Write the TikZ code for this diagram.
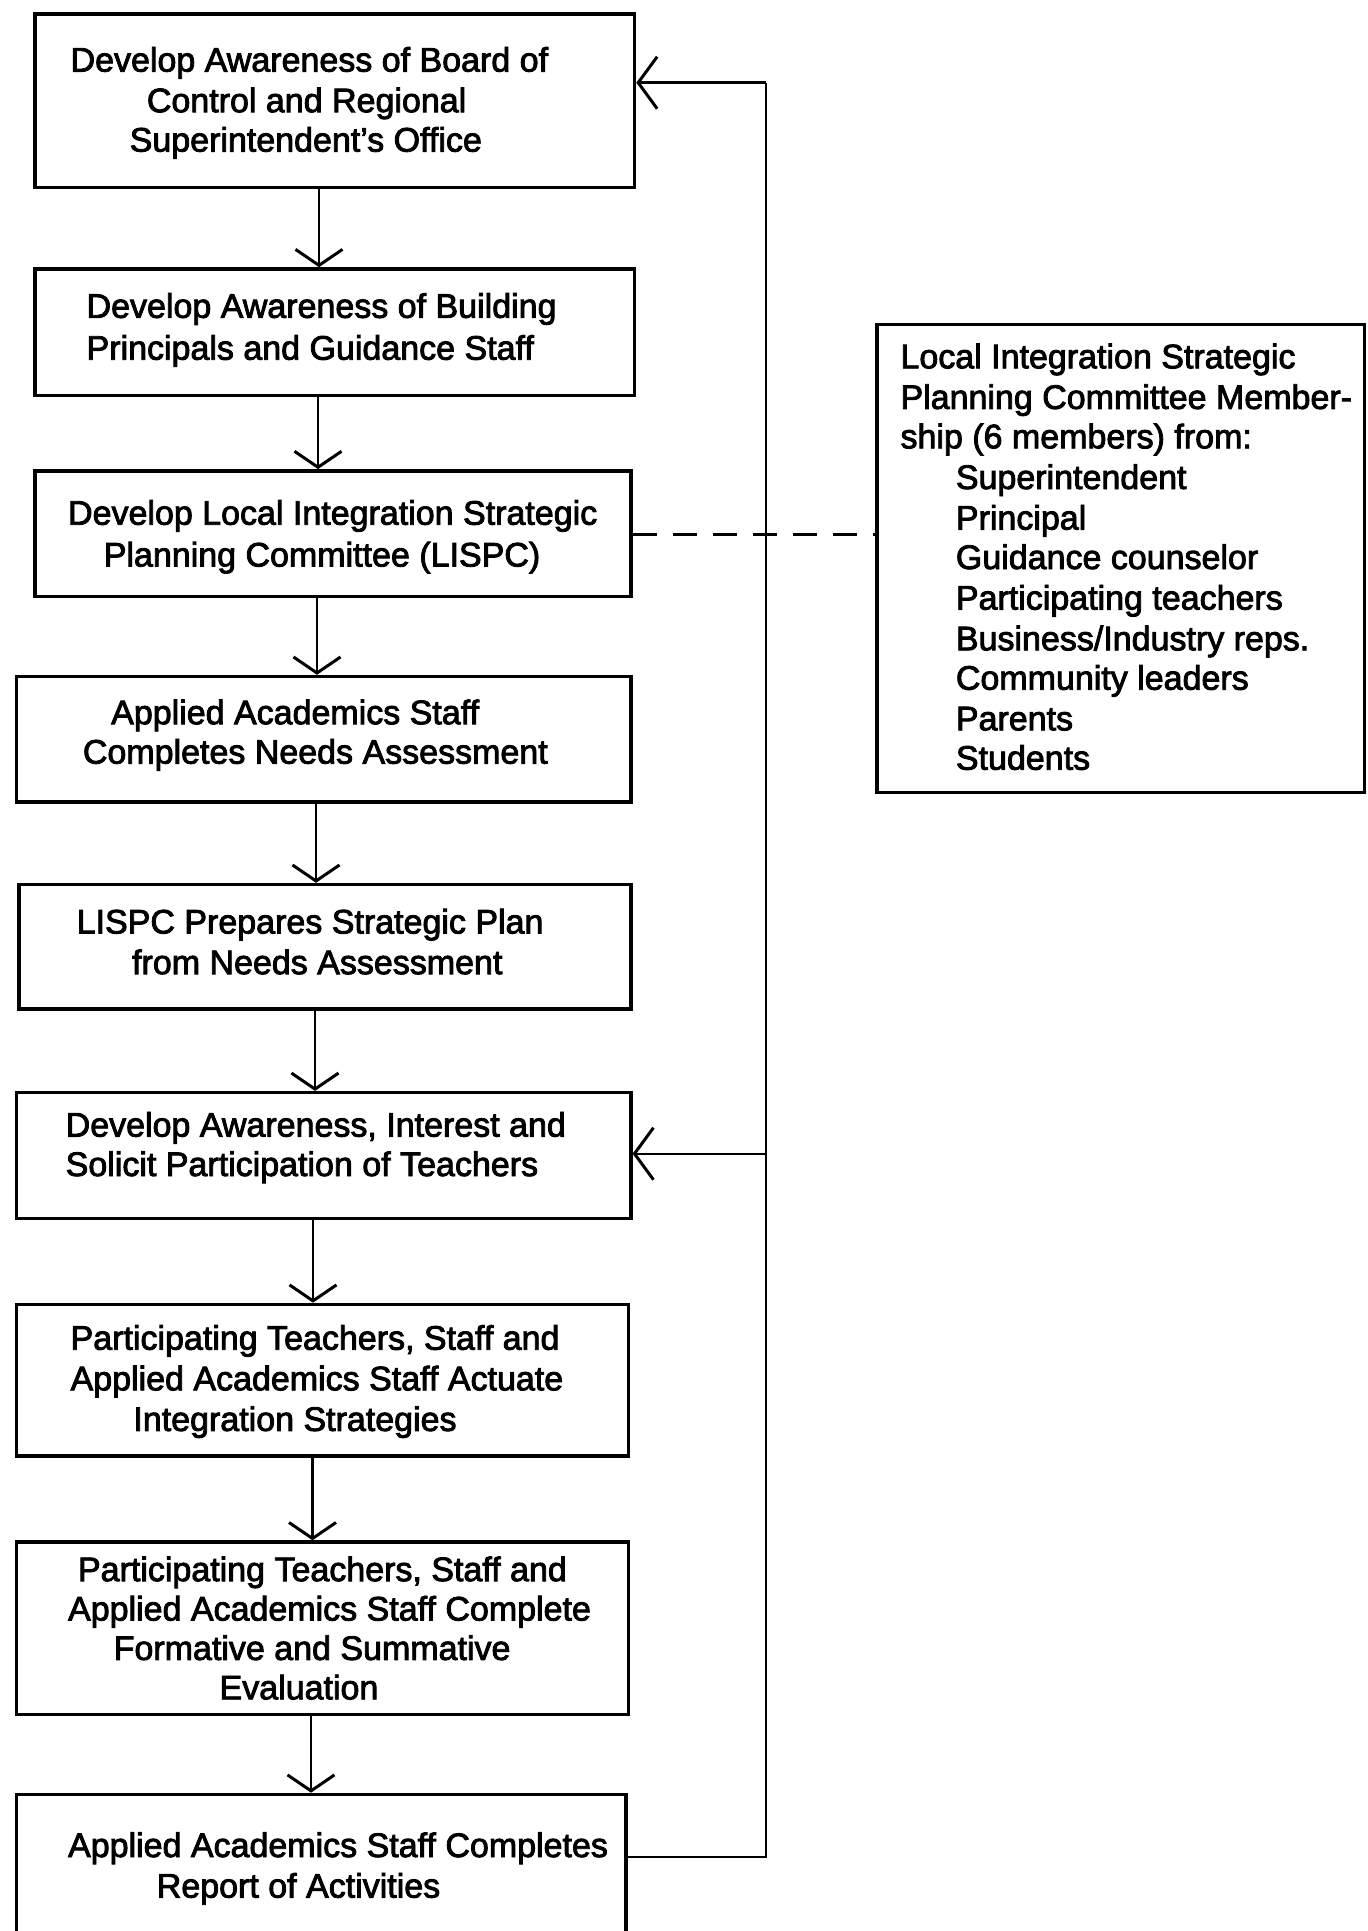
\documentclass[tikz,border=0pt]{standalone}
\usepackage{fontspec}
\newfontfamily\diagfont{Liberation Sans}[FakeBold=2.5]
\usetikzlibrary{arrows.meta}
\begin{document}
\begin{tikzpicture}[x=0.5pt,y=-0.5pt,
  box/.style={draw, line width=1.7pt, inner sep=0pt, anchor=north west},
  txt/.style={anchor=base west, inner sep=0pt, font=\diagfont\fontsize{17}{20}\selectfont},
  arr/.style={line width=1.3pt, -{Straight Barb[length=8pt,width=23.5pt,line width=1.5pt]}},
  sarr/.style={line width=1.2pt, -{Straight Barb[length=9.5pt,width=26pt,line width=1.5pt]}},
  fb/.style={line width=1.2pt},
  dashline/.style={line width=1.2pt, dash pattern=on 12pt off 8pt}]
\useasboundingbox (0,0) rectangle (1368,1931);
\clip (0,0) rectangle (1368,1931);
\fill[white] (0,0) rectangle (1368,1931);

% boxes
\node[box, minimum width=299.85pt, minimum height=86.8pt] (b1) at (33.2,12.3) {};
\node[box, minimum width=299.85pt, minimum height=63.4pt] (b2) at (33.2,267.2) {};
\node[box, minimum width=298pt, minimum height=62.8pt] (b3) at (33.2,469.1) {};
\node[box, minimum width=307.2pt, minimum height=62.75pt] (b4) at (14.8,674.8) {};
\node[box, minimum width=306pt, minimum height=62.2pt] (b5) at (17.2,882.8) {};
\node[box, minimum width=307.2pt, minimum height=62.8pt] (b6) at (14.8,1090.9) {};
\node[box, minimum width=305.95pt, minimum height=75.75pt] (b7) at (14.8,1302.7) {};
\node[box, minimum width=305.95pt, minimum height=86.2pt] (b8) at (14.8,1540.3) {};
\node[box, minimum width=304.75pt, minimum height=100pt] (b9) at (14.8,1792.7) {};
\node[box, minimum width=243.8pt, minimum height=233.95pt] (r) at (875.4,322.6) {};

% texts
\node[txt] (t1a) at (70.2,71.6) {Develop Awareness of Board of};
\node[txt] (t1b) at (146.5,112.2) {Control and Regional};
\node[txt] (t1c) at (129.3,151.6) {Superintendent’s Office};
\node[txt] (t2a) at (86.2,317.8) {Develop Awareness of Building};
\node[txt] (t2b) at (86.2,359.7) {Principals and Guidance Staff};
\node[txt] (t3a) at (67.7,524.7) {Develop Local Integration Strategic};
\node[txt] (t3b) at (103.4,566.5) {Planning Committee (LISPC)};
\node[txt] (t4a) at (110.8,724.2) {Applied Academics Staff};
\node[txt] (t4b) at (82.5,763.6) {Completes Needs Assessment};
\node[txt] (t5a) at (76.3,933.5) {LISPC Prepares Strategic Plan};
\node[txt] (t5b) at (131.7,974.1) {from Needs Assessment};
\node[txt] (t6a) at (65.3,1136.6) {Develop Awareness, Interest and};
\node[txt] (t6b) at (65.3,1176.0) {Solicit Participation of Teachers};
\node[txt] (t7a) at (70.2,1349.7) {Participating Teachers, Staff and};
\node[txt] (t7b) at (70.2,1390.3) {Applied Academics Staff Actuate};
\node[txt] (t7c) at (133,1430.9) {Integration Strategies};
\node[txt] (t8a) at (77.6,1581.1) {Participating Teachers, Staff and};
\node[txt] (t8b) at (67.7,1620.5) {Applied Academics Staff Complete};
\node[txt] (t8c) at (113.3,1659.9) {Formative and Summative};
\node[txt] (t8d) at (219.2,1699.3) {Evaluation};
\node[txt] (t9a) at (67.7,1857) {Applied Academics Staff Completes};
\node[txt] (t9b) at (156.4,1897.6) {Report of Activities};

\node[txt] (ra) at (900.1,368.3) {Local Integration Strategic};
\node[txt] (rb) at (900.1,408.9) {Planning Committee Member-};
\node[txt] (rc) at (900.1,448.3) {ship (6 members) from:};
\node[txt] (rd) at (955.5,489.0) {Superintendent};
\node[txt] (re) at (955.5,529.6) {Principal};
\node[txt] (rf) at (955.5,569.0) {Guidance counselor};
\node[txt] (rg) at (955.5,609.6) {Participating teachers};
\node[txt] (rh) at (955.5,650.3) {Business/Industry reps.};
\node[txt] (ri) at (955.5,689.7) {Community leaders};
\node[txt] (rj) at (955.5,730.3) {Parents};
\node[txt] (rk) at (955.5,769.7) {Students};

% arrow x positions
\coordinate (x12) at (319,0);
\coordinate (x23) at (318,0);
\coordinate (x34) at (317,0);
\coordinate (x45) at (316,0);
\coordinate (x56) at (315,0);
\coordinate (x67) at (313,0);
\coordinate (x78) at (312.5,0);
\coordinate (x89) at (311,0);

\draw[arr] (b1.south -| x12) -- (b2.north -| x12);
\draw[arr] (b2.south -| x23) -- (b3.north -| x23);
\draw[arr] (b3.south -| x34) -- (b4.north -| x34);
\draw[arr] (b4.south -| x45) -- (b5.north -| x45);
\draw[arr] (b5.south -| x56) -- (b6.north -| x56);
\draw[arr] (b6.south -| x67) -- (b7.north -| x67);
\draw[arr] (b7.south -| x78) -- (b8.north -| x78);
\draw[arr] (b8.south -| x89) -- (b9.north -| x89);

% feedback loop
\coordinate (fbx) at (766,0);
\coordinate (yb) at (0,1857);
\coordinate (y1) at (0,82.7);
\coordinate (y6) at (0,1153.7);
\draw[fb] (b9.east |- yb) -- (fbx |- yb) -- (fbx |- y1);
\draw[sarr] (fbx |- y1) -- (b1.east |- y1);
\draw[sarr] (fbx |- y6) -- (b6.east |- y6);

% dashed link
\coordinate (yd) at (0,534.4);
\draw[dashline] (b3.east |- yd) -- (r.west |- yd);
\end{tikzpicture}
\end{document}
